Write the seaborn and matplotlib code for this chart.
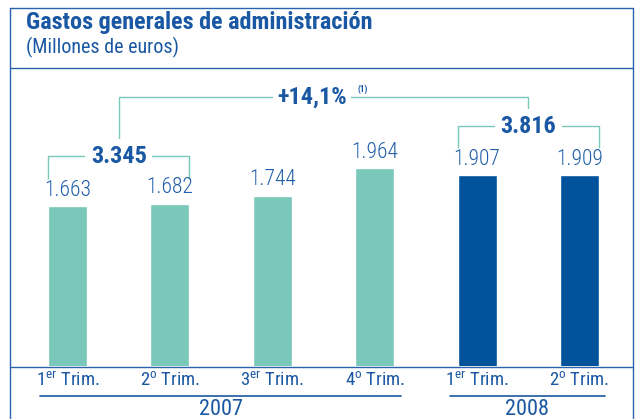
import matplotlib
matplotlib.use('Agg')
import matplotlib.pyplot as plt
from matplotlib.lines import Line2D
import seaborn as sns
import pandas as pd

# data
quarters = ['1T07', '2T07', '3T07', '4T07', '1T08', '2T08']
tick_labels = [r'1$^{\mathrm{er}}$ Trim.', r'2$^{\mathrm{o}}$ Trim.', r'3$^{\mathrm{er}}$ Trim.',
               r'4$^{\mathrm{o}}$ Trim.', r'1$^{\mathrm{er}}$ Trim.', r'2$^{\mathrm{o}}$ Trim.']
years = ['2007', '2007', '2007', '2007', '2008', '2008']
values = [1.663, 1.682, 1.744, 1.964, 1.907, 1.909]
value_labels = ['1.663', '1.682', '1.744', '1.964', '1.907', '1.909']
sum_2007 = '3.345'
sum_2008 = '3.816'
growth = '+14,1%'

TEAL = '#79c8b9'
DARK = '#00529b'
TXT = '#1a58a3'
LINE = '#2a63ad'
FAM = ['Roboto Condensed', 'Roboto', 'DejaVu Sans']

sns.set_theme(style='white')
plt.rcParams['font.family'] = FAM
plt.rcParams['mathtext.fontset'] = 'custom'
plt.rcParams['mathtext.rm'] = 'Roboto Condensed'

W, H = 638, 419
fig = plt.figure(figsize=(W / 100, H / 100), dpi=100)


def fx(px):
    return px / W


def fy(py):
    return 1 - py / H


# bar area: bottom at y=366px, 126 px per unit, baseline value 0.393
base_v = 0.393
ppu = 126.0
top_v = base_v + (366 - 38) / ppu
ax = fig.add_axes([fx(16.3), fy(366), fx(614.4), (366 - 38) / H])
df = pd.DataFrame({'q': quarters, 'v': values, 'year': years})
sns.barplot(data=df, x='q', y='v', hue='year', palette={'2007': TEAL, '2008': DARK},
            dodge=False, width=0.38, saturation=1, legend=False, ax=ax)
ax.set_xlim(-0.5, 5.5)
ax.set_ylim(base_v, top_v)
ax.axis('off')

# value labels above bars
for i, (v, lab) in enumerate(zip(values, value_labels)):
    ax.annotate(lab, (i, v), xytext=(0, 11.5), textcoords='offset points',
                ha='center', va='center', fontsize=15.5, fontweight='light',
                color='#1e5ea8')


def yv(py):
    return base_v + (366 - py) / ppu


half = 0.19
br = dict(color=TEAL, lw=1.0, solid_capstyle='butt')
# 2007 first half bracket
ax.plot([-half, -half, 1 + half, 1 + half], [yv(179), yv(156), yv(156), yv(179)], **br)
ax.text(0.5, yv(156), sum_2007, ha='center', va='center', fontsize=17.5, fontweight='bold',
        color=TXT, bbox=dict(fc='white', ec='none', pad=4))
# 2008 first half bracket
ax.plot([4 - half, 4 - half, 5 + half, 5 + half], [yv(148), yv(126), yv(126), yv(148)], **br)
ax.text(4.5, yv(126), sum_2008, ha='center', va='center', fontsize=17.5, fontweight='bold',
        color=TXT, bbox=dict(fc='white', ec='none', pad=4))
# growth bracket
ax.plot([0.5, 0.5, 4.5, 4.5], [yv(142), yv(97), yv(97), yv(113)], **br)
ax.text(2.39, yv(97), growth, ha='center', va='center', fontsize=17.5,
        fontweight='bold', color=TXT, bbox=dict(fc='white', ec='none', pad=3))
ax.text(2.88, yv(89), '(1)', ha='center', va='center', fontsize=6.5, fontweight='bold',
        color=TXT, bbox=dict(fc='white', ec='none', pad=1.5))

# frame
for seg in [((10, 633), (8, 8)), ((10, 10), (8, 419)), ((633, 633), (8, 419)),
            ((10, 633), (68, 68)), ((10, 633), (366.5, 366.5))]:
    fig.add_artist(Line2D([fx(p) for p in seg[0]], [fy(p) for p in seg[1]],
                          color=LINE, lw=1.0))

fig.text(fx(26), fy(23), 'Gastos generales de administración', fontsize=17.4,
         fontweight='bold', color=TXT, va='center', ha='left')
fig.text(fx(26), fy(47), '(Millones de euros)', fontsize=14.5, color=TXT,
         va='center', ha='left')

# category labels
trans = matplotlib.transforms.blended_transform_factory(ax.transData, fig.transFigure)
for i, lab in enumerate(tick_labels):
    ax.text(i, fy(381), lab, transform=trans, ha='center', va='center', fontsize=13.5,
            color=TXT, clip_on=False)
# year groups with underline
for lo, hi, yr in [(40, 401, '2007'), (450, 605, '2008')]:
    fig.add_artist(Line2D([fx(lo), fx(hi)], [fy(396), fy(396)], color=TXT, lw=1.2))
    fig.text(fx((lo + hi) / 2), fy(409), yr, ha='center', va='center', fontsize=16,
             color=TXT)

fig.savefig('out.png', dpi=100)
